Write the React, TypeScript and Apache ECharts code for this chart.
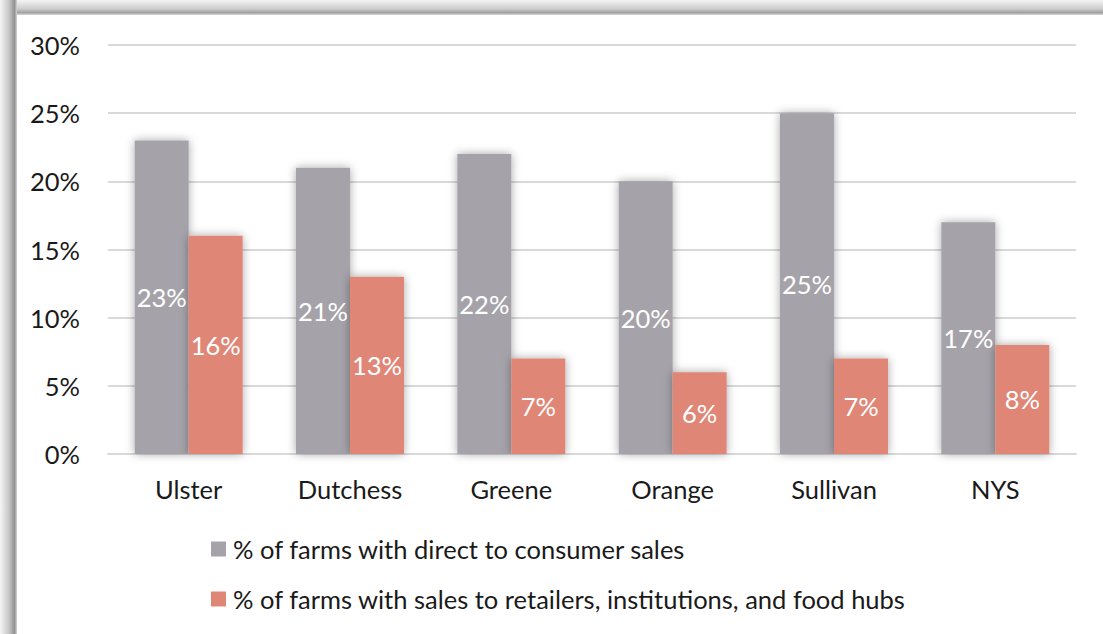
import React, { useEffect, useRef } from "react";
import * as echarts from "echarts";

const categories = ["Ulster", "Dutchess", "Greene", "Orange", "Sullivan", "NYS"];
const directSales = [23, 21, 22, 20, 25, 17];
const retailSales = [16, 13, 7, 6, 7, 8];
const seriesNames = [
  "% of farms with direct to consumer sales",
  "% of farms with sales to retailers, institutions, and food hubs",
];

const FONT = "Lato, 'Open Sans', sans-serif";
const FS = 25.5;

export default function App() {
  const ref = useRef<HTMLDivElement>(null);
  useEffect(() => {
    document.body.style.margin = "0";
    const chart = echarts.init(ref.current!, null, { renderer: "svg" });
    const label = {
      show: true,
      position: "inside",
      color: "#ffffff",
      fontFamily: FONT,
      fontSize: FS,
      formatter: (p: any) => p.value + "%",
    };
    chart.setOption({
      animation: false,
      backgroundColor: "#ffffff",
      textStyle: { fontFamily: FONT },
      graphic: [
        {
          type: "rect",
          shape: { x: 0, y: 0, width: 1103, height: 15 },
          style: {
            fill: new echarts.graphic.LinearGradient(0, 0, 0, 1, [
              { offset: 0, color: "#f4f4f4" },
              { offset: 0.6, color: "#cccccc" },
              { offset: 0.85, color: "#a0a0a0" },
              { offset: 1, color: "#dcdcdc" },
            ]),
          },
          z: 100,
        },
        {
          type: "rect",
          shape: { x: 0, y: 0, width: 17, height: 634 },
          style: {
            fill: new echarts.graphic.LinearGradient(0, 0, 1, 0, [
              { offset: 0, color: "#f6f6f6" },
              { offset: 0.55, color: "#c4c4c4" },
              { offset: 0.85, color: "#929292" },
              { offset: 1, color: "#d4d4d4" },
            ]),
          },
          z: 101,
        },
      ],
      grid: { left: 108, right: 27, top: 45, bottom: 180, containLabel: false },
      legend: {
        orient: "vertical",
        left: 211,
        top: 536,
        padding: 0,
        itemWidth: 15,
        itemHeight: 15,
        itemGap: 24,
        icon: "rect",
        textStyle: { fontFamily: FONT, fontSize: FS, color: "#1a1a1a", padding: [0, 0, 0, 2] },
        data: seriesNames,
      },
      xAxis: {
        type: "category",
        data: categories,
        axisTick: { show: false },
        axisLine: { lineStyle: { color: "#d9d9d9", width: 2 } },
        axisLabel: { fontFamily: FONT, fontSize: FS, color: "#1a1a1a", margin: 22 },
      },
      yAxis: {
        type: "value",
        min: 0,
        max: 30,
        interval: 5,
        axisLabel: {
          fontFamily: FONT,
          fontSize: FS,
          color: "#1a1a1a",
          margin: 28,
          formatter: (v: number) => v + "%",
        },
        splitLine: { lineStyle: { color: "#d9d9d9", width: 2 } },
        axisLine: { show: false },
        axisTick: { show: false },
      },
      series: [
        {
          name: seriesNames[0],
          type: "bar",
          data: directSales,
          barWidth: 54,
          barGap: "0%",
          itemStyle: {
            color: "#a5a3a9",
            shadowBlur: 10,
            shadowColor: "rgba(0,0,0,0.35)",
          },
          label,
        },
        {
          name: seriesNames[1],
          type: "bar",
          data: retailSales,
          barWidth: 54,
          barGap: "0%",
          itemStyle: {
            color: "#e08677",
            shadowBlur: 10,
            shadowColor: "rgba(0,0,0,0.35)",
          },
          label,
        },
      ],
    });
    return () => chart.dispose();
  }, []);
  return <div ref={ref} style={{ width: 1103, height: 634 }} />;
}
